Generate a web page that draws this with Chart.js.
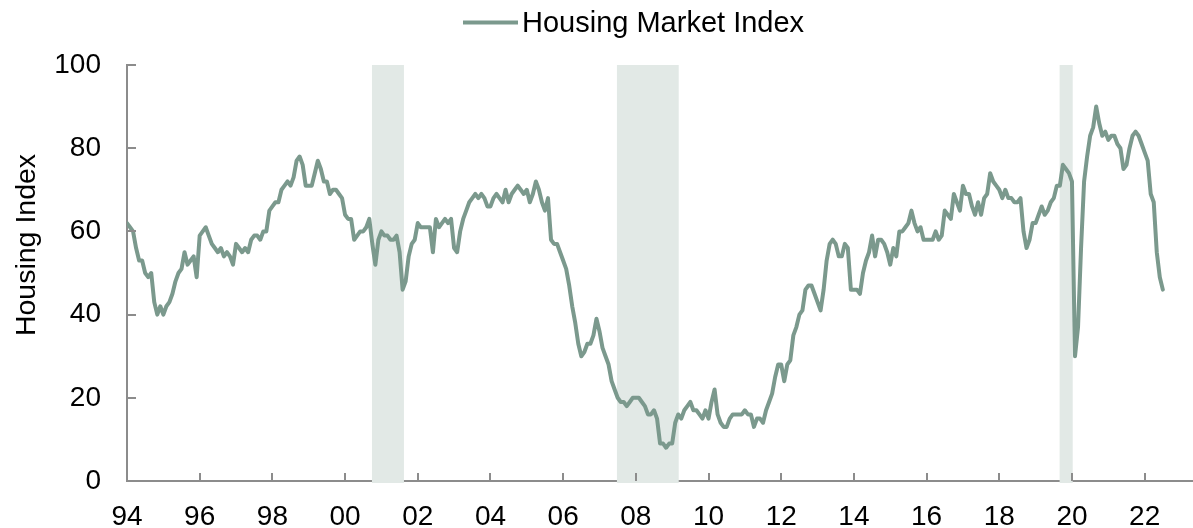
<!DOCTYPE html>
<html>
<head>
<meta charset="utf-8">
<script src="https://cdn.jsdelivr.net/npm/chart.js@4.4.0/dist/chart.umd.min.js"></script>
<style>
html,body{margin:0;padding:0;background:#ffffff;}
#wrap{width:1193px;height:528px;position:relative;}
</style>
</head>
<body>
<div id="wrap"><canvas id="c"></canvas></div>
<script>
// ---- data (monthly readings, first point at the "94" tick) ----
const startYear = 1994;
const hmi1994to1998 = [62,61,60,56,53,53,50,49,50,43, 40,42,40,42,43,45,48,50,51,55, 52,53,54,49,59,60,61,59,57,56, 55,56,54,55,54,52,57,56,55,56, 55,58,59,59,58,60,60,65,66,67, 67,70,71,72,71,73,77,78,76,71];
const hmi1999to2003 = [71,71,74,77,75,72,72,69,70,70, 69,68,64,63,63,58,59,60,60,61, 63,57,52,58,60,59,59,58,58,59, 55,46,48,54,57,58,62,61,61,61, 61,55,63,61,62,63,62,63,56,55, 60,63,65,67,68,69,68,69,68,66];
const hmi2004to2008 = [66,68,69,68,67,70,67,69,70,71, 70,69,70,67,69,72,70,67,65,68, 58,57,57,55,53,51,47,42,38,33, 30,31,33,33,35,39,36,32,30,28, 24,22,20,19,19,18,19,20,20,20, 19,18,16,16,17,15,9,9,8,9];
const hmi2009to2013 = [9,14,16,15,17,18,19,17,17,16, 15,17,15,19,22,16,14,13,13,15, 16,16,16,16,17,16,16,13,15,15, 14,17,19,21,25,28,28,24,28,29, 35,37,40,41,46,47,47,45,43,41, 46,53,57,58,57,54,54,57,56,46];
const hmi2014to2018 = [46,46,45,50,53,55,59,54,58,58, 57,55,52,56,54,60,60,61,62,65, 62,60,61,58,58,58,58,60,58,59, 65,64,63,69,67,65,71,69,69,66, 64,67,64,68,69,74,72,71,70,68, 70,68,68,67,67,68,60,56,58,62];
const hmi2019to2022 = [62,64,66,64,65,67,68,71,71,76, 75,74,72,30,37,56,72,78,83,85, 90,86,83,84,82,83,83,81,80,75, 76,80,83,84,83,81,79,77,69,67, 55,49,46];

const recessionStart = [2000.74, 2007.48, 2019.66];
const recessionEnd   = [2001.62, 2009.18, 2020.02];

const yTicks = [0, 20, 40, 60, 80, 100];
const seriesLabel = 'Housing Market Index';
const yTitle = 'Housing Index';

// ---- build ----
const values = [].concat(hmi1994to1998, hmi1999to2003, hmi2004to2008, hmi2009to2013, hmi2014to2018, hmi2019to2022);
const points = values.map((v, k) => ({ x: startYear + k / 12, y: v }));

const LINE = '#7b998d';
const SHADE = '#e2e9e6';
const AXIS = '#8c8c8c';
const FONT = '"Liberation Sans", Arial, sans-serif';
const FS = 28;

const shadePlugin = {
  id: 'shade',
  beforeDatasetsDraw(chart) {
    const { ctx, chartArea, scales } = chart;
    ctx.save();
    ctx.fillStyle = SHADE;
    for (let i = 0; i < recessionStart.length; i++) {
      const x0 = scales.x.getPixelForValue(recessionStart[i]);
      const x1 = scales.x.getPixelForValue(recessionEnd[i]);
      ctx.fillRect(x0, chartArea.top, x1 - x0, chartArea.bottom - chartArea.top + 2);
    }
    ctx.restore();
  }
};

const decorPlugin = {
  id: 'decor',
  afterDraw(chart) {
    const { ctx, chartArea, scales } = chart;
    ctx.save();
    // inside tick marks
    ctx.strokeStyle = AXIS;
    ctx.lineWidth = 2;
    scales.y.ticks.forEach(t => {
      if (t.value === 0) return;
      const y = Math.round(scales.y.getPixelForValue(t.value));
      ctx.beginPath(); ctx.moveTo(chartArea.left, y); ctx.lineTo(chartArea.left + 9, y); ctx.stroke();
    });
    scales.x.ticks.forEach(t => {
      if (t.value === startYear) return;
      const x = Math.round(scales.x.getPixelForValue(t.value));
      ctx.beginPath(); ctx.moveTo(x, chartArea.bottom); ctx.lineTo(x, chartArea.bottom - 8); ctx.stroke();
    });
    // legend
    ctx.strokeStyle = LINE;
    ctx.lineWidth = 4;
    ctx.beginPath(); ctx.moveTo(463, 22.5); ctx.lineTo(518, 22.5); ctx.stroke();
    ctx.fillStyle = '#000';
    ctx.font = '29px ' + FONT;
    ctx.textAlign = 'left';
    ctx.textBaseline = 'alphabetic';
    ctx.fillText(chart.data.datasets[0].label, 522, 32);
    // y title
    ctx.font = '28.5px ' + FONT;
    ctx.translate(27, 245);
    ctx.rotate(-Math.PI / 2);
    ctx.textAlign = 'center';
    ctx.textBaseline = 'middle';
    ctx.fillText(yTitle, 0, 0);
    ctx.restore();
  }
};

new Chart(document.getElementById('c'), {
  type: 'line',
  data: {
    datasets: [{
      label: seriesLabel,
      data: points,
      borderColor: LINE,
      backgroundColor: LINE,
      borderWidth: 4,
      pointRadius: 0,
      tension: 0,
      fill: false,
      borderJoinStyle: 'round',
      borderCapStyle: 'round'
    }]
  },
  options: {
    responsive: true,
    maintainAspectRatio: false,
    animation: false,
    devicePixelRatio: 1,
    layout: { padding: { top: 65, right: 0, bottom: 0, left: 0 } },
    plugins: { legend: { display: false }, tooltip: { enabled: false } },
    scales: {
      x: {
        type: 'linear',
        min: 1994,
        max: 2023.33,
        grid: { display: false, drawTicks: false },
        border: { display: true, color: AXIS, width: 2 },
        ticks: {
          stepSize: 2,
          includeBounds: false,
          autoSkip: false,
          maxRotation: 0,
          padding: 19,
          color: '#000',
          font: { family: FONT, size: FS },
          callback: v => (Number.isInteger(v) && v % 2 === 0) ? String(v).slice(2) : ''
        },
        afterFit: s => { s.height = 47; }
      },
      y: {
        min: 0,
        max: 100,
        afterBuildTicks: s => { s.ticks = yTicks.map(v => ({ value: v })); },
        grid: { display: false, drawTicks: false },
        border: { display: true, color: AXIS, width: 2 },
        ticks: {
          padding: 26,
          color: '#000',
          font: { family: FONT, size: FS }
        },
        afterFit: s => { s.width = 127; }
      }
    }
  },
  plugins: [shadePlugin, decorPlugin]
});
</script>
</body>
</html>
